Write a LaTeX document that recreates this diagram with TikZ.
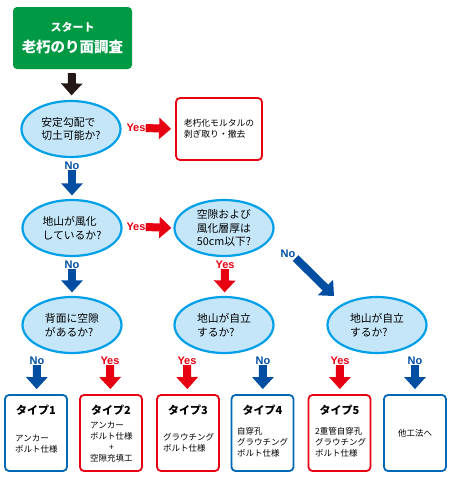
\documentclass[tikz,border=0pt]{standalone}
\usepackage{fontspec}
\setmainfont{Noto Sans CJK JP}
\newfontfamily\ynfont{Liberation Sans}
\usepackage{tikz}
\usetikzlibrary{arrows.meta, positioning, shapes.geometric}

\definecolor{startgreen}{RGB}{0,153,68}
\definecolor{ynred}{RGB}{230,0,18}
\definecolor{ynblue}{RGB}{0,78,162}
\definecolor{elledge}{RGB}{0,160,233}
\definecolor{ellfill}{RGB}{197,230,248}
\definecolor{boxblue}{RGB}{0,104,183}
\definecolor{arrowblack}{RGB}{35,24,21}

\begin{document}
\begin{tikzpicture}[
		x=1pt, y=-1pt,
		% Question ellipses
		quest/.style={ellipse, draw=elledge, fill=ellfill, line width=2.2pt,
			minimum width=99pt, minimum height=56pt, inner sep=0pt, align=left,
			font=\fontsize{10.8}{13.5}\selectfont},
		% Result boxes
		resbox/.style={draw=#1, rounded corners=4pt, line width=1.8pt, fill=white,
			minimum width=62pt, minimum height=76pt, inner sep=0pt},
		restitle/.style={font=\fontsize{11}{13}\selectfont\bfseries, inner sep=0pt},
		restext/.style={font=\fontsize{8.5}{11}\selectfont, align=left, inner sep=0pt},
		% Yes / No labels
		yes/.style={text=ynred, font=\ynfont\fontsize{11}{12}\selectfont\bfseries, inner sep=0pt},
		no/.style={text=ynblue, font=\ynfont\fontsize{11}{12}\selectfont\bfseries, inner sep=0pt},
		% Block arrows
		blockarrow/.style={draw=#1, line width=8pt, -{Triangle[length=12pt, width=21pt]}},
		yesarrow/.style={blockarrow=ynred},
		noarrow/.style={blockarrow=ynblue}
		]
		\useasboundingbox (0,0) rectangle (450,480);
		
		% === START ===
		\node[fill=startgreen, rounded corners=4pt, minimum width=119pt, minimum height=62pt,
			text=white, align=center, font=\bfseries] (start) at (72.5,38)
			{{\fontsize{11}{13}\selectfont スタート}\\[6pt]{\fontsize{14.5}{17}\selectfont 老朽のり面調査}};
		
		% === QUESTIONS ===
		\node[quest] (q1) at (71,129) {安定勾配で\\切土可能か?};
		\node[quest] (q2) at (72,228) {地山が風化\\しているか?};
		\node[quest] (q3) at (224,228) {空隙および\\風化層厚は\\50cm以下?};
		\node[quest] (q4) at (72,325) {背面に空隙\\があるか?};
		\node[quest] (q5) at (224,325) {地山が自立\\するか?};
		\node[quest] (q6) at (377,325) {地山が自立\\するか?};
		
		% === REMOVAL BOX ===
		\node[resbox=ynred, minimum width=86pt, minimum height=62pt, align=left,
			font=\fontsize{8.8}{11}\selectfont] (remove) at (219,129)
			{老朽化モルタルの\\剥ぎ取り・撤去};
		
		% === TYPE BOXES ===
		\node[resbox=boxblue] (type1) at (36,433) {};
		\node[resbox=ynred] (type2) at (111,433) {};
		\node[resbox=ynred] (type3) at (188,433) {};
		\node[resbox=boxblue] (type4) at (262.5,433) {};
		\node[resbox=ynred] (type5) at (339.5,433) {};
		\node[resbox=boxblue] (other) at (415,433) {};
		
		\node[restitle] (title1) at (36,410) {タイプ1};
		\node[restitle] (title2) at (111,410) {タイプ2};
		\node[restitle] (title3) at (188,410) {タイプ3};
		\node[restitle] (title4) at (262.5,410) {タイプ4};
		\node[restitle] (title5) at (339.5,410) {タイプ5};
		
		\node[restext, anchor=west] (body1) at (15,443.5) {アンカー\\ボルト仕様};
		\node[restext, anchor=west] (body2) at (90,441.5) {アンカー\\ボルト仕様\\\makebox[5em]{+}\\空隙充填工};
		\node[restext, anchor=west] (body3) at (163,442.5) {グラウチング\\ボルト仕様};
		\node[restext, anchor=west] (body4) at (237,442) {自穿孔\\グラウチング\\ボルト仕様};
		\node[restext, anchor=west] (body5) at (315,442) {2重管自穿孔\\グラウチング\\ボルト仕様};
		\node[restext] (body6) at (415,433) {他工法へ};
		
		% === LABELS ===
		\node[yes] (y1) at (136,128) {Yes};
		\node[no] (n1) at (72,166) {No};
		\node[yes] (y2) at (136,227) {Yes};
		\node[no] (n2) at (72,265) {No};
		\node[yes] (y3) at (225,265) {Yes};
		\node[no] (n3) at (288,254) {No};
		\coordinate (tip3) at (334,296);
		\node[no] (n4) at (37,361) {No};
		\node[yes] (y4) at (110,361) {Yes};
		\node[yes] (y5) at (187,361) {Yes};
		\node[no] (n5) at (263,361) {No};
		\node[yes] (y6) at (340,361) {Yes};
		\node[no] (n6) at (415,361) {No};
		
		% === ARROWS ===
		\draw[blockarrow=arrowblack, shorten <=4pt, shorten >=4.5pt] (start) -- (q1);
		
		\draw[yesarrow, shorten >=4pt] (y1.east) -- (remove.west);
		\draw[noarrow, shorten >=3.5pt] (n1) -- (q2);
		\draw[yesarrow, shorten >=2pt] (y2.east) -- (q3.west);
		\draw[noarrow, shorten >=3.5pt] (n2) -- (q4);
		\draw[yesarrow, shorten >=3.5pt] (y3) -- (q5);
		\draw[noarrow] (n3.south east) -- (tip3);
		
		\draw[noarrow, shorten >=5pt] (n4) -- (type1);
		\draw[yesarrow, shorten >=5pt] (y4) -- (type2);
		\draw[yesarrow, shorten >=5pt] (y5) -- (type3);
		\draw[noarrow, shorten >=5pt] (n5) -- (type4);
		\draw[yesarrow, shorten >=5pt] (y6) -- (type5);
		\draw[noarrow, shorten >=5pt] (n6) -- (other);
		
	\end{tikzpicture}
\end{document}
